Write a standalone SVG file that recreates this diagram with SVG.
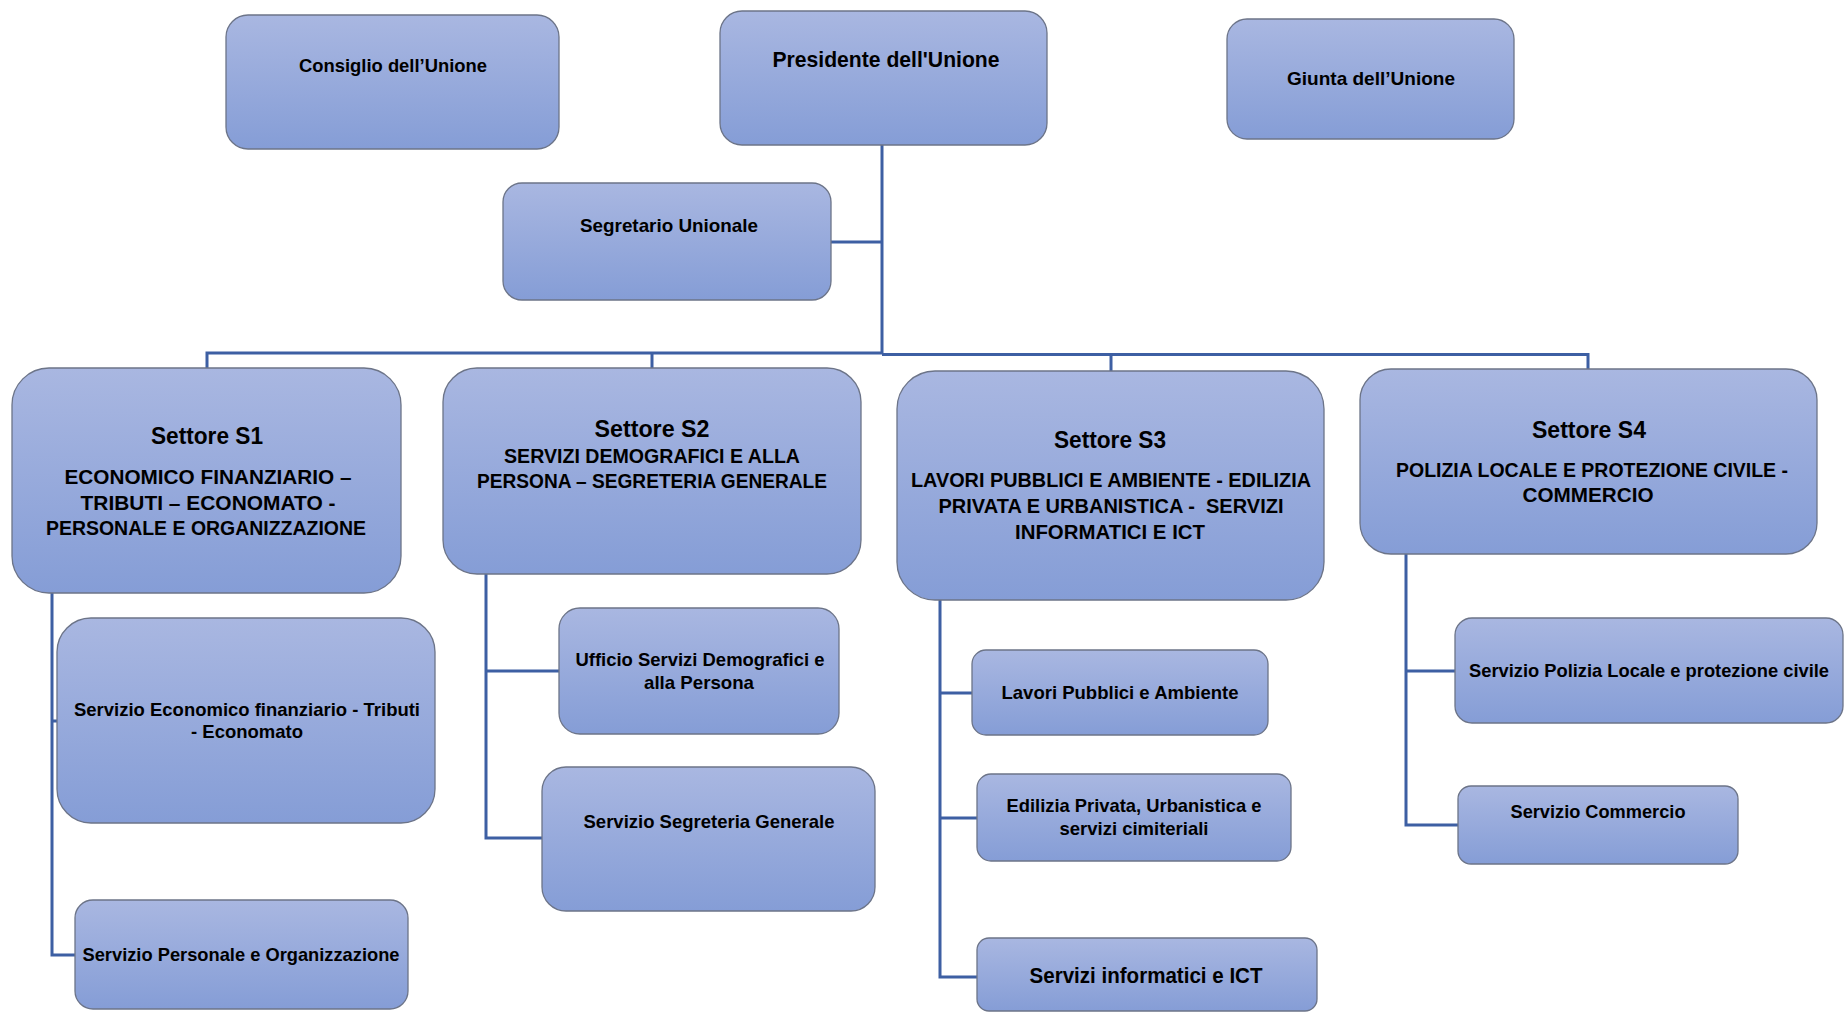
<svg xmlns="http://www.w3.org/2000/svg" width="1845" height="1013" viewBox="0 0 1845 1013">
<style>
.box{fill:url(#g);stroke:#6c7488;stroke-width:1.3}
.t{font-family:"Liberation Sans",Arial,sans-serif;font-weight:bold;fill:#000;text-anchor:middle}
.c{fill:none;stroke:#3d5fa3;stroke-width:3}
</style>
<defs>
<linearGradient id="g" x1="0" y1="0" x2="0" y2="1">
<stop offset="0" stop-color="#a9b7e1"/>
<stop offset="1" stop-color="#859dd6"/>
</linearGradient>
</defs>
<rect width="1845" height="1013" fill="#fff"/>
<g id="connectors">
<path class="c" d="M882,145 V354"/>
<path class="c" d="M831,242 H882"/>
<path class="c" d="M207,368 V353 H882"/>
<path class="c" d="M882,354.5 H1588 V369"/>
<path class="c" d="M652,353 V368"/>
<path class="c" d="M1111,354.5 V371"/>
<path class="c" d="M52,593 V955 H75 M52,721 H58"/>
<path class="c" d="M486,574 V838 H544 M486,671 H561"/>
<path class="c" d="M940,600 V977 H977 M940,693 H972 M940,818 H977"/>
<path class="c" d="M1406,554 V825 H1458 M1406,671 H1455"/>
</g>
<g id="consiglio"><rect class="box" x="226" y="15" width="333" height="134" rx="22"/><text class="t" x="393" y="72" font-size="19" textLength="188" lengthAdjust="spacingAndGlyphs">Consiglio dell’Unione</text></g>
<g id="presidente"><rect class="box" x="720" y="11" width="327" height="134" rx="22"/><text class="t" x="886" y="67" font-size="21.5" textLength="227" lengthAdjust="spacingAndGlyphs">Presidente dell'Unione</text></g>
<g id="giunta"><rect class="box" x="1227" y="19" width="287" height="120" rx="20"/><text class="t" x="1371" y="85" font-size="19" textLength="168" lengthAdjust="spacingAndGlyphs">Giunta dell’Unione</text></g>
<g id="segretario"><rect class="box" x="503" y="183" width="328" height="117" rx="19"/><text class="t" x="669" y="232" font-size="19" textLength="178" lengthAdjust="spacingAndGlyphs">Segretario Unionale</text></g>
<g id="s1"><rect class="box" x="12" y="368" width="389" height="225" rx="37"/>
<text class="t" x="207" y="444" font-size="23.5" textLength="112" lengthAdjust="spacingAndGlyphs">Settore S1</text>
<text class="t" x="208" y="484" font-size="20" textLength="287" lengthAdjust="spacingAndGlyphs">ECONOMICO FINANZIARIO –</text>
<text class="t" x="208" y="510" font-size="20" textLength="255" lengthAdjust="spacingAndGlyphs">TRIBUTI – ECONOMATO -</text>
<text class="t" x="206" y="535" font-size="20" textLength="320" lengthAdjust="spacingAndGlyphs">PERSONALE E ORGANIZZAZIONE</text></g>
<g id="s2"><rect class="box" x="443" y="368" width="418" height="206" rx="34"/>
<text class="t" x="652" y="437" font-size="23.5" textLength="115" lengthAdjust="spacingAndGlyphs">Settore S2</text>
<text class="t" x="652" y="463" font-size="20" textLength="296" lengthAdjust="spacingAndGlyphs">SERVIZI DEMOGRAFICI E ALLA</text>
<text class="t" x="652" y="488" font-size="20" textLength="350" lengthAdjust="spacingAndGlyphs">PERSONA – SEGRETERIA GENERALE</text></g>
<g id="s3"><rect class="box" x="897" y="371" width="427" height="229" rx="38"/>
<text class="t" x="1110" y="448" font-size="23.5" textLength="112" lengthAdjust="spacingAndGlyphs">Settore S3</text>
<text class="t" x="1111" y="487" font-size="20" textLength="400" lengthAdjust="spacingAndGlyphs">LAVORI PUBBLICI E AMBIENTE - EDILIZIA</text>
<text class="t" x="1111" y="513" font-size="20" textLength="345" lengthAdjust="spacingAndGlyphs" xml:space="preserve" style="white-space:pre">PRIVATA E URBANISTICA -  SERVIZI</text>
<text class="t" x="1110" y="539" font-size="20" textLength="190" lengthAdjust="spacingAndGlyphs">INFORMATICI E ICT</text></g>
<g id="s4"><rect class="box" x="1360" y="369" width="457" height="185" rx="31"/>
<text class="t" x="1589" y="438" font-size="23.5" textLength="114" lengthAdjust="spacingAndGlyphs">Settore S4</text>
<text class="t" x="1592" y="477" font-size="20" textLength="392" lengthAdjust="spacingAndGlyphs">POLIZIA LOCALE E PROTEZIONE CIVILE -</text>
<text class="t" x="1588" y="502" font-size="20" textLength="131" lengthAdjust="spacingAndGlyphs">COMMERCIO</text></g>
<g id="serv-economico"><rect class="box" x="57" y="618" width="378" height="205" rx="34"/>
<text class="t" x="247" y="716" font-size="19" textLength="346" lengthAdjust="spacingAndGlyphs">Servizio Economico finanziario - Tributi</text>
<text class="t" x="247" y="738" font-size="19" textLength="112" lengthAdjust="spacingAndGlyphs">- Economato</text></g>
<g id="serv-personale"><rect class="box" x="75" y="900" width="333" height="109" rx="18"/>
<text class="t" x="241" y="961" font-size="19" textLength="317" lengthAdjust="spacingAndGlyphs">Servizio Personale e Organizzazione</text></g>
<g id="uff-demografici"><rect class="box" x="559" y="608" width="280" height="126" rx="21"/>
<text class="t" x="700" y="666" font-size="19" textLength="249" lengthAdjust="spacingAndGlyphs">Ufficio Servizi Demografici e</text>
<text class="t" x="699" y="689" font-size="19" textLength="110" lengthAdjust="spacingAndGlyphs">alla Persona</text></g>
<g id="serv-segreteria"><rect class="box" x="542" y="767" width="333" height="144" rx="24"/>
<text class="t" x="709" y="828" font-size="19" textLength="251" lengthAdjust="spacingAndGlyphs">Servizio Segreteria Generale</text></g>
<g id="lavori"><rect class="box" x="972" y="650" width="296" height="85" rx="14"/>
<text class="t" x="1120" y="699" font-size="19" textLength="237" lengthAdjust="spacingAndGlyphs">Lavori Pubblici e Ambiente</text></g>
<g id="edilizia"><rect class="box" x="977" y="774" width="314" height="87" rx="14"/>
<text class="t" x="1134" y="812" font-size="19" textLength="255" lengthAdjust="spacingAndGlyphs">Edilizia Privata, Urbanistica e</text>
<text class="t" x="1134" y="835" font-size="19" textLength="149" lengthAdjust="spacingAndGlyphs">servizi cimiteriali</text></g>
<g id="ict"><rect class="box" x="977" y="938" width="340" height="73" rx="12"/>
<text class="t" x="1146" y="983" font-size="21.5" textLength="233" lengthAdjust="spacingAndGlyphs">Servizi informatici e ICT</text></g>
<g id="polizia"><rect class="box" x="1455" y="618" width="388" height="105" rx="17"/>
<text class="t" x="1649" y="677" font-size="19" textLength="360" lengthAdjust="spacingAndGlyphs">Servizio Polizia Locale e protezione civile</text></g>
<g id="commercio"><rect class="box" x="1458" y="786" width="280" height="78" rx="13"/>
<text class="t" x="1598" y="818" font-size="19" textLength="175" lengthAdjust="spacingAndGlyphs">Servizio Commercio</text></g>
</svg>
